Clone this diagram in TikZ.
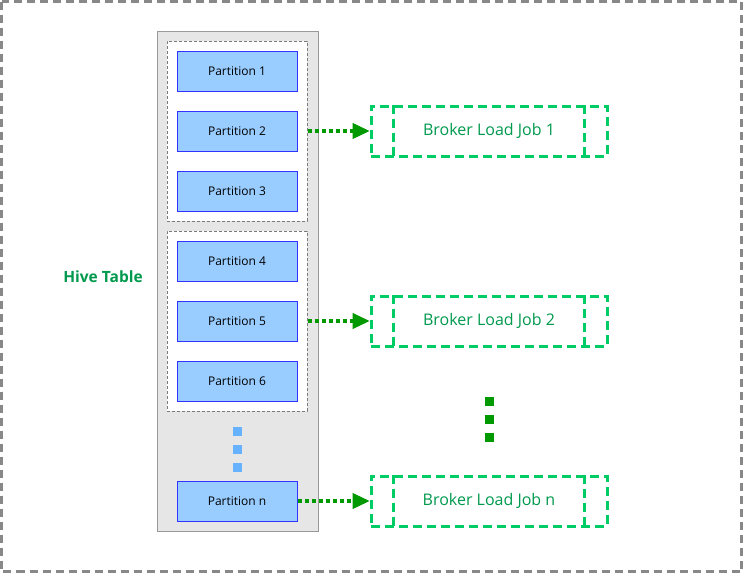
\documentclass[tikz,border=0pt]{standalone}
\usepackage{fontspec}
\setmainfont{Open Sans}
\usetikzlibrary{arrows.meta}
\definecolor{outergray}{HTML}{888888}
\definecolor{colfill}{HTML}{E6E6E6}
\definecolor{colline}{HTML}{999999}
\definecolor{partfill}{HTML}{99CCFF}
\definecolor{partline}{HTML}{3333FF}
\definecolor{dotblue}{HTML}{66B2FF}
\definecolor{jobline}{HTML}{00CC66}
\definecolor{jobtext}{HTML}{00994D}
\definecolor{arrowgreen}{HTML}{009900}
\tikzset{
  partbox/.style={draw=partline, fill=partfill, line width=1pt, minimum width=120pt, minimum height=40pt, inner sep=0pt, font=\fontsize{12}{14}\selectfont},
  groupbox/.style={draw=colline!80!black, dash pattern=on 3pt off 2pt, line width=0.8pt, fill=white, minimum width=140pt, minimum height=180pt, inner sep=0pt},
  jobbox/.style={draw=jobline, line width=3pt, dash pattern=on 9pt off 5pt, minimum width=236pt, minimum height=50pt, inner sep=0pt, text=jobtext, font=\fontsize{16}{18}\selectfont},
  jobsep/.style={draw=jobline, line width=3pt, dash pattern=on 9pt off 5pt},
  flow/.style={draw=arrowgreen, line width=4pt, dash pattern=on 4pt off 3pt, -{Triangle[length=17pt,width=16pt,line width=1pt,fill=arrowgreen]}},
  bluedot/.style={fill=dotblue, draw=none, minimum size=9pt, inner sep=0pt},
  greendot/.style={fill=arrowgreen, draw=none, minimum size=9pt, inner sep=0pt}
}
\begin{document}
\begin{tikzpicture}[x=1pt,y=-1pt]
\useasboundingbox (0,0) rectangle (743,573);
% outer border
\draw[outergray, line width=3pt, dash pattern=on 8pt off 5pt] (1.5,1.5) rectangle (741.5,571.5);
% column
\node[draw=colline, fill=colfill, line width=1pt, minimum width=161pt, minimum height=500pt, inner sep=0pt] (col) at (237.5,281) {};
\node[groupbox] (g1) at (237,131) {};
\node[groupbox] (g2) at (237,321) {};
\node[partbox] (p1) at (237,71) {Partition 1};
\node[partbox] (p2) at (237,131) {Partition 2};
\node[partbox] (p3) at (237,191) {Partition 3};
\node[partbox] (p4) at (237,261) {Partition 4};
\node[partbox] (p5) at (237,321) {Partition 5};
\node[partbox] (p6) at (237,381) {Partition 6};
\node[partbox] (pn) at (237,501) {Partition n};
\node[bluedot] (bd1) at (237,431) {};
\node[bluedot] (bd2) at (237,449) {};
\node[bluedot] (bd3) at (237,467) {};
% label
\node[text=jobtext, font=\bfseries\fontsize{15.5}{18}\selectfont] (hive) at (103,277) {Hive Table};
% jobs
\node[jobbox] (j1) at (489,131) {Broker Load Job 1};
\node[jobbox] (j2) at (489,321) {Broker Load Job 2};
\node[jobbox] (jn) at (489,501) {Broker Load Job n};
\foreach \j in {j1,j2,jn}{
  \draw[jobsep] ([xshift=24pt]\j.north west) -- ([xshift=24pt]\j.south west);
  \draw[jobsep] ([xshift=-24pt]\j.north east) -- ([xshift=-24pt]\j.south east);
}
\node[greendot] (gd1) at (489,401) {};
\node[greendot] (gd2) at (489,419) {};
\node[greendot] (gd3) at (489,437) {};
% arrows
\draw[flow] ([xshift=1pt]g1.east |- p2.east) -- (j1.west);
\draw[flow] ([xshift=1pt]g2.east |- p5.east) -- (j2.west);
\draw[flow] (pn.east) -- (jn.west);
\end{tikzpicture}
\end{document}
